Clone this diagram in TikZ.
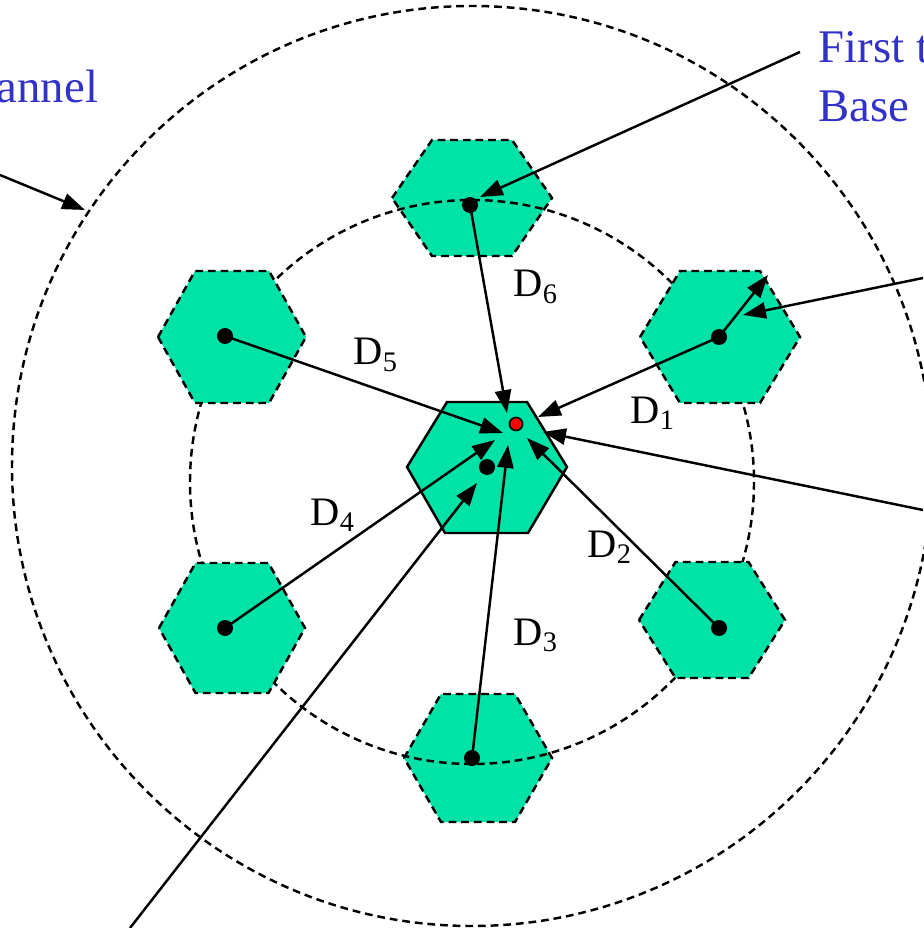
\documentclass[tikz,border=0pt]{standalone}
\usepackage{fontspec}
\setmainfont{Liberation Serif}
\usetikzlibrary{arrows.meta}
\definecolor{cellgreen}{RGB}{0,226,166}
\definecolor{lblblue}{RGB}{50,50,200}
\definecolor{msred}{RGB}{255,0,0}
\tikzset{
  cell/.style={fill=cellgreen, draw=black, line width=0.7pt,
    dash pattern=on 2.2pt off 1.4pt},
  homecell/.style={fill=cellgreen, draw=black, line width=0.7pt},
  ring/.style={draw=black, line width=0.7pt, dash pattern=on 2.2pt off 1.4pt},
  arrow/.style={-{Triangle[length=6.5pt, width=4.6pt]}, line width=0.7pt, color=black},
  bluetext/.style={font=\fontsize{13.3}{16.8}\selectfont, text=lblblue,
    inner sep=0pt, anchor=base west, align=left},
  dlabel/.style={font=\fontsize{11.5}{13}\selectfont, inner sep=0pt, anchor=base west}
}

\begin{document}
\begin{tikzpicture}[x=0.01cm, y=-0.01cm]
  \useasboundingbox (0,0) rectangle (923,928);

  % Reuse distance ring
  \draw[ring] (472,466) circle[radius=460];

  % Cells on the first tier, top and bottom
  \foreach \cx/\cy/\w/\h in {472/198/80/58, 478/758/74/64}
    \draw[cell] (\cx-\w,\cy) -- (\cx-\w/2,\cy-\h) -- (\cx+\w/2,\cy-\h)
      -- (\cx+\w,\cy) -- (\cx+\w/2,\cy+\h) -- (\cx-\w/2,\cy+\h) -- cycle;

  % First tier ring
  \draw[ring] (472,482) circle[radius=282];

  % Cells on the first tier, sides
  \foreach \cx/\cy/\w/\h in {232/337/74/66, 232/628/73/65, 712/620/73/58, 720/337/80/66}
    \draw[cell] (\cx-\w,\cy) -- (\cx-\w/2,\cy-\h) -- (\cx+\w/2,\cy-\h)
      -- (\cx+\w,\cy) -- (\cx+\w/2,\cy+\h) -- (\cx-\w/2,\cy+\h) -- cycle;

  % Home cell
  \draw[homecell] (407,467) -- (447,402) -- (527,402) -- (567,467)
    -- (528,533) -- (445,533) -- cycle;

  % Base stations and mobile
  \coordinate (bs0) at (487,467);
  \coordinate (bs1) at (719,337);
  \coordinate (bs2) at (719,628);
  \coordinate (bs3) at (472,758);
  \coordinate (bs4) at (225,628);
  \coordinate (bs5) at (225,336);
  \coordinate (bs6) at (470,205);
  \coordinate (ms) at (516,424);

  % Arrow ends
  \coordinate (t1) at (538,417);
  \coordinate (t2) at (527,438);
  \coordinate (t3) at (508,445);
  \coordinate (t4) at (495,440);
  \coordinate (t5) at (503,433);
  \coordinate (t6) at (507,413);
  \coordinate (tr) at (768,275);
  \coordinate (ringpt) at (85,210);
  \coordinate (c0) at (0,175);
  \coordinate (c1) at (800,52);
  \coordinate (c2) at (923,278);
  \coordinate (c3) at (923,510);
  \coordinate (c4) at (130,928);
  \coordinate (e2) at (743,315);
  \coordinate (e3) at (543,432);
  \coordinate (e4) at (477,483);
  \coordinate (e1) at (480,197);

  % Distances
  \draw[arrow] (bs1) -- (t1);
  \draw[arrow] (bs2) -- (t2);
  \draw[arrow] (bs3) -- (t3);
  \draw[arrow] (bs4) -- (t4);
  \draw[arrow] (bs5) -- (t5);
  \draw[arrow] (bs6) -- (t6);
  \draw[arrow] (bs1) -- (tr);

  % Callouts
  \draw[arrow] (c0) -- (ringpt);
  \draw[arrow] (c1) -- (e1);
  \draw[arrow] (c2) -- (e2);
  \draw[arrow] (c3) -- (e3);
  \draw[arrow] (c4) -- (e4);

  \foreach \p in {bs0,bs1,bs2,bs3,bs4,bs5,bs6}
    \fill (\p) circle[radius=8];
  \filldraw[fill=msred, draw=black, line width=0.5pt] (ms) circle[radius=6.5];

  % Labels
  \node[dlabel] (d1) at (630,423) {D\textsubscript{1}};
  \node[dlabel] (d2) at (587,557) {D\textsubscript{2}};
  \node[dlabel] (d3) at (513,645) {D\textsubscript{3}};
  \node[dlabel] (d4) at (310,525) {D\textsubscript{4}};
  \node[dlabel] (d5) at (353,365) {D\textsubscript{5}};
  \node[dlabel] (d6) at (513,297) {D\textsubscript{6}};

  \node[bluetext] (chan) at (-4,103) {annel};
  \node[bluetext] (tier) at (818,63) {First t};
  \node[bluetext] (base) at (818,122) {Base};
\end{tikzpicture}
\end{document}
